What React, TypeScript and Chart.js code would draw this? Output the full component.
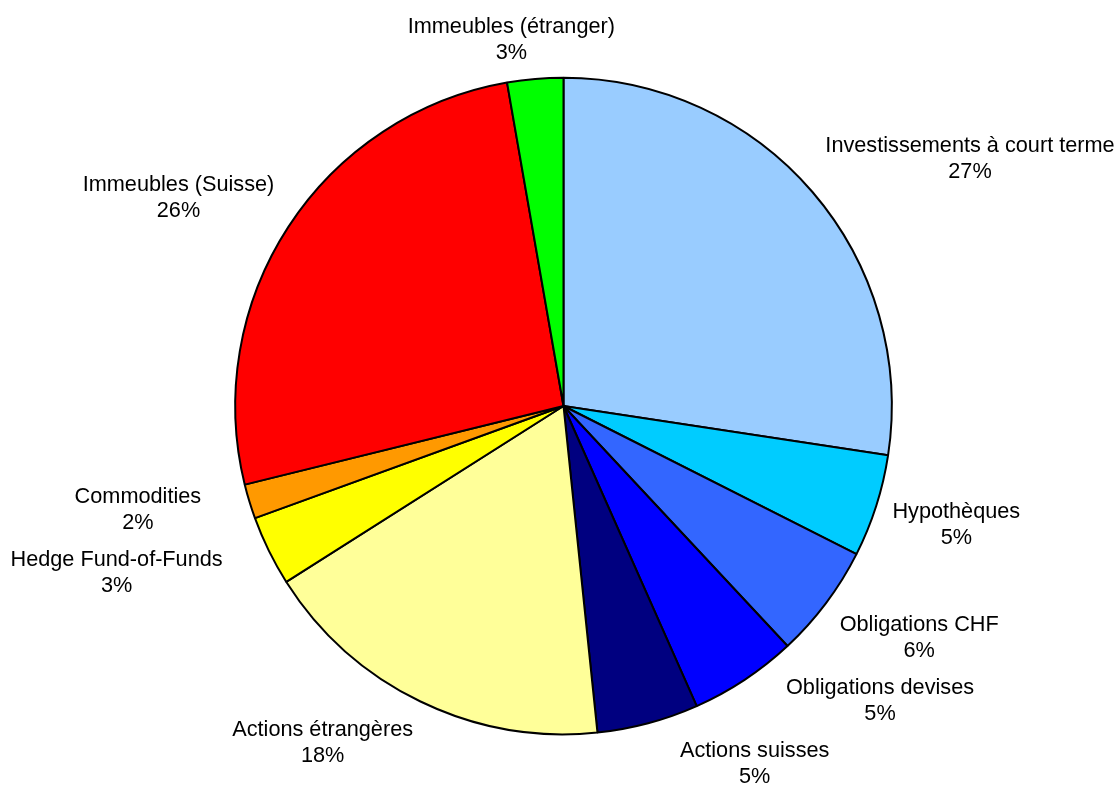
import React, { useEffect, useRef } from "react";
import { Chart, registerables } from "chart.js";

Chart.register(...registerables);

const categories = [
  "Investissements à court terme",
  "Hypothèques",
  "Obligations CHF",
  "Obligations devises",
  "Actions suisses",
  "Actions étrangères",
  "Hedge Fund-of-Funds",
  "Commodities",
  "Immeubles (Suisse)",
  "Immeubles (étranger)",
];

const values = [27.4, 5.05, 5.6, 5.3, 5.0, 17.65, 3.45, 1.7, 26.1, 2.75];

const colors = [
  "#99CCFF",
  "#00CCFF",
  "#3366FF",
  "#0000FF",
  "#000080",
  "#FFFF99",
  "#FFFF00",
  "#FF9900",
  "#FF0000",
  "#00FF00",
];

// small manual label nudges (layout only), like dragged data labels
const labelNudgeX = [0, 0, 0, 32, 54, 0, -31, -32, 0, 0];
const labelNudgeY = [0, 0, 0, -19, -1, 0, -4, -9, 0, 0];

const FONT = "21.7px 'Liberation Sans', Arial, sans-serif";

const clamp = (v: number) => Math.max(-1, Math.min(1, v));

const outsideLabels = {
  id: "outsideLabels",
  afterDatasetsDraw(chart: any) {
    const ctx = chart.ctx as CanvasRenderingContext2D;
    const meta = chart.getDatasetMeta(0);
    const data = chart.data.datasets[0].data as number[];
    const total = data.reduce((a, b) => a + b, 0);
    ctx.save();
    ctx.font = FONT;
    ctx.fillStyle = "#000000";
    ctx.textAlign = "center";
    ctx.textBaseline = "alphabetic";
    meta.data.forEach((arc: any, i: number) => {
      const p = arc.getProps(["x", "y", "startAngle", "endAngle", "outerRadius"], true);
      const mid = (p.startAngle + p.endAngle) / 2;
      const D = p.outerRadius + 17;
      const line1 = String(chart.data.labels[i]);
      const line2 = Math.round((data[i] / total) * 100) + "%";
      const w = Math.max(ctx.measureText(line1).width, ctx.measureText(line2).width);
      const hw = w / 2;
      const hh = 24;
      const ax = p.x + D * Math.cos(mid);
      const ay = p.y + D * Math.sin(mid);
      const cx = ax + hw * clamp(2.5 * Math.cos(mid)) + labelNudgeX[i];
      const cy = ay + hh * clamp(1.6 * Math.sin(mid)) + labelNudgeY[i];
      ctx.fillText(line1, cx, cy - 5.2);
      ctx.fillText(line2, cx, cy + 20.8);
    });
    ctx.restore();
  },
};

export default function App() {
  const canvasRef = useRef<HTMLCanvasElement | null>(null);

  useEffect(() => {
    const canvas = canvasRef.current;
    if (!canvas) return;
    const chart = new Chart(canvas, {
      type: "pie",
      data: {
        labels: categories,
        datasets: [
          {
            data: values,
            backgroundColor: colors,
            borderColor: "#000000",
            borderWidth: 2,
          },
        ],
      },
      options: {
        responsive: false,
        maintainAspectRatio: false,
        animation: false,
        devicePixelRatio: 1,
        radius: 328.3,
        layout: { padding: { left: 9, right: 0, top: 27, bottom: 0 } },
        plugins: {
          legend: { display: false },
          tooltip: { enabled: false },
          title: { display: false },
        },
      } as any,
      plugins: [outsideLabels],
    });
    return () => chart.destroy();
  }, []);

  return (
    <div style={{ position: "absolute", left: 0, top: 0, width: 1118, height: 785, background: "#ffffff" }}>
      <canvas ref={canvasRef} width={1118} height={785} style={{ display: "block" }} />
    </div>
  );
}
